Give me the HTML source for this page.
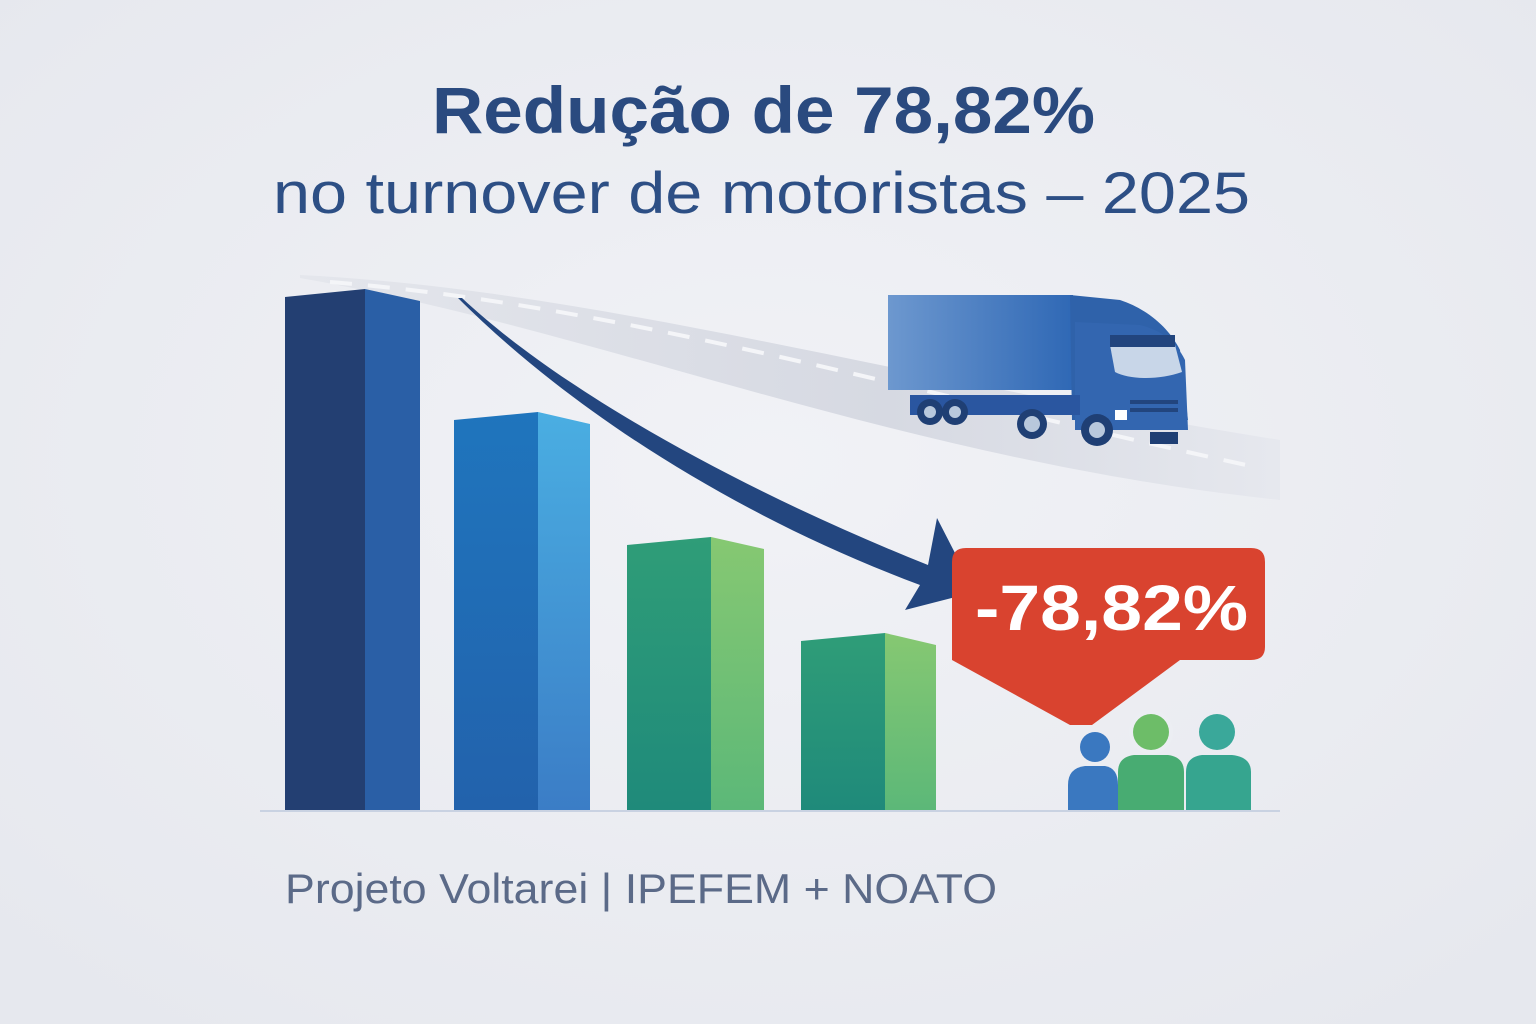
<!DOCTYPE html>
<html><head><meta charset="utf-8"><style>
html,body{margin:0;padding:0;width:1536px;height:1024px;overflow:hidden;background:#eceef3;}
svg{display:block}
</style></head><body>
<svg width="1536" height="1024" viewBox="0 0 1536 1024" xmlns="http://www.w3.org/2000/svg">
<defs>
<radialGradient id="bg" cx="50%" cy="45%" r="70%"><stop offset="0" stop-color="#f1f2f6"/><stop offset="1" stop-color="#e6e8ee"/></radialGradient>
<linearGradient id="road" x1="0" y1="0" x2="1" y2="0"><stop offset="0" stop-color="#e4e6ec"/><stop offset="0.6" stop-color="#d6d9e2"/><stop offset="1" stop-color="#e6e8ee"/></linearGradient>
<linearGradient id="b2r" x1="0" y1="0" x2="0" y2="1"><stop offset="0" stop-color="#4aaee2"/><stop offset="1" stop-color="#3b7dc6"/></linearGradient>
<linearGradient id="b2l" x1="0" y1="0" x2="0" y2="1"><stop offset="0" stop-color="#1f75bd"/><stop offset="1" stop-color="#2262ac"/></linearGradient>
<linearGradient id="b3l" x1="0" y1="0" x2="0" y2="1"><stop offset="0" stop-color="#2f9d78"/><stop offset="1" stop-color="#1f8a7a"/></linearGradient>
<linearGradient id="b3r" x1="0" y1="0" x2="0" y2="1"><stop offset="0" stop-color="#86c872"/><stop offset="1" stop-color="#5cb878"/></linearGradient>
<linearGradient id="box" x1="0" y1="0" x2="1" y2="0"><stop offset="0" stop-color="#6d98cf"/><stop offset="1" stop-color="#2f68b5"/></linearGradient>
</defs>
<rect width="1536" height="1024" fill="url(#bg)"/>
<path d="M300,275 C600,290 900,380 1280,440 L1280,500 C900,460 600,330 300,278 Z" fill="url(#road)"/>
<path d="M330,282 C620,305 900,390 1260,468" stroke="#f4f5f8" stroke-width="4" stroke-dasharray="22 16" fill="none"/>
<line x1="260" y1="811" x2="1280" y2="811" stroke="#c9d2e2" stroke-width="2"/>
<polygon points="285,297 365,289 365,810 285,810" fill="#233f72"/>
<polygon points="365,289 420,301 420,810 365,810" fill="#2a5fa6"/>
<polygon points="454,420 538,412 538,810 454,810" fill="url(#b2l)"/>
<polygon points="538,412 590,424 590,810 538,810" fill="url(#b2r)"/>
<polygon points="627,545 711,537 711,810 627,810" fill="url(#b3l)"/>
<polygon points="711,537 764,549 764,810 711,810" fill="url(#b3r)"/>
<polygon points="801,641 885,633 885,810 801,810" fill="url(#b3l)"/>
<polygon points="885,633 936,645 936,810 885,810" fill="url(#b3r)"/>
<path d="M458,298 C560,400 720,510 920,585 L905,610 L975,592 L937,518 L928,565 C740,490 560,390 462,298 Z" fill="#23467f"/>
<rect x="888" y="295" width="185" height="95" fill="url(#box)"/>
<path d="M1070,295 L1120,300 C1150,310 1170,330 1180,350 L1188,420 L1072,420 Z" fill="#2f62aa"/>
<path d="M1075,322 L1140,325 C1160,330 1175,340 1185,360 L1188,430 L1075,430 Z" fill="#3366b0"/>
<path d="M1110,345 L1175,345 L1182,372 C1160,380 1130,380 1115,372 Z" fill="#c8d6e8"/>
<rect x="1110" y="335" width="65" height="12" fill="#22457e"/>
<rect x="910" y="395" width="170" height="20" fill="#2a56a0"/>
<rect x="1130" y="400" width="48" height="4" fill="#22457e"/><rect x="1130" y="408" width="48" height="4" fill="#22457e"/>
<rect x="1115" y="410" width="12" height="10" fill="#fff"/>
<g fill="#1f3f74"><circle cx="930" cy="412" r="13"/><circle cx="955" cy="412" r="13"/><circle cx="1032" cy="424" r="15"/><circle cx="1097" cy="430" r="16"/></g>
<g fill="#b8c8dc"><circle cx="930" cy="412" r="6"/><circle cx="955" cy="412" r="6"/><circle cx="1032" cy="424" r="8"/><circle cx="1097" cy="430" r="8"/></g>
<rect x="1150" y="432" width="28" height="12" fill="#1f3f74"/>
<path d="M966,548 L1251,548 Q1265,548 1265,562 L1265,647 Q1265,660 1251,660 L1180,660 L1092,725 L1070,725 L952,660 L952,562 Q952,548 966,548 Z" fill="#d9432f"/>
<text x="975" y="630" textLength="273" lengthAdjust="spacingAndGlyphs" font-family="Liberation Sans, sans-serif" font-weight="bold" font-size="64" fill="#fff">-78,82%</text>
<g>
<circle cx="1151" cy="732" r="22" fill="#eceef3"/>
<circle cx="1095" cy="747" r="15" fill="#3a78c0"/>
<path d="M1068,810 L1068,785 Q1068,768 1085,766 L1105,766 Q1118,768 1118,785 L1118,810 Z" fill="#3a78c0"/>
<circle cx="1217" cy="732" r="18" fill="#3aa89a"/>
<path d="M1186,810 L1186,772 Q1186,757 1202,755 L1232,755 Q1251,757 1251,772 L1251,810 Z" fill="#36a58f"/>
<circle cx="1151" cy="732" r="18" fill="#6dbd68"/>
<path d="M1118,810 L1118,772 Q1118,757 1134,755 L1168,755 Q1184,757 1184,772 L1184,810 Z" fill="#48ac72"/>
</g>
<text x="432" y="133" textLength="663" lengthAdjust="spacingAndGlyphs" font-family="Liberation Sans, sans-serif" font-weight="bold" font-size="66" fill="#2a4a7f">Redução de 78,82%</text>
<text x="273" y="213" textLength="977" lengthAdjust="spacingAndGlyphs" font-family="Liberation Sans, sans-serif" font-size="58" fill="#2d4f85">no turnover de motoristas – 2025</text>
<text x="285" y="903" textLength="712" lengthAdjust="spacingAndGlyphs" font-family="Liberation Sans, sans-serif" font-size="42" fill="#5b6a88">Projeto Voltarei | IPEFEM + NOATO</text>
</svg>
</body></html>
